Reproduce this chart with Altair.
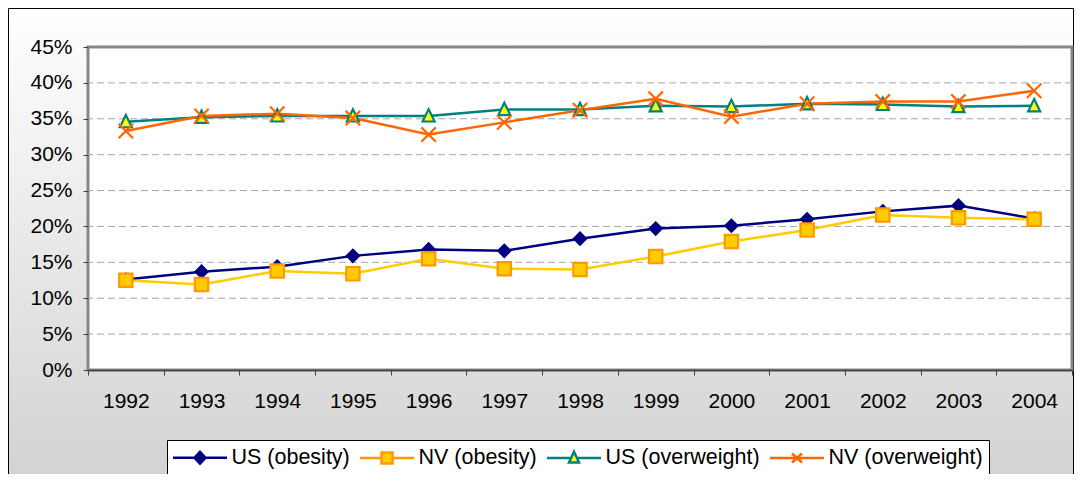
import altair as alt
import pandas as pd

# ---------------- data ----------------
years = ["1992", "1993", "1994", "1995", "1996", "1997", "1998",
         "1999", "2000", "2001", "2002", "2003", "2004"]
series_names = ["US (obesity)", "NV (obesity)", "US (overweight)", "NV (overweight)"]
us_obesity = [12.6, 13.7, 14.4, 15.9, 16.8, 16.6, 18.3, 19.7, 20.1, 21.0, 22.1, 22.9, 21.1]
nv_obesity = [12.5, 11.9, 13.8, 13.4, 15.5, 14.1, 14.0, 15.8, 17.9, 19.5, 21.6, 21.2, 21.0]
us_overweight = [34.6, 35.2, 35.4, 35.4, 35.4, 36.3, 36.3, 36.8, 36.7, 37.1, 37.0, 36.7, 36.8]
nv_overweight = [33.3, 35.4, 35.7, 35.1, 32.8, 34.5, 36.2, 37.8, 35.3, 37.1, 37.4, 37.4, 38.9]
gridlines = [5, 10, 15, 20, 25, 30, 35, 40]
y_ticks = [0, 5, 10, 15, 20, 25, 30, 35, 40, 45]

rows = []
for name, vals in zip(series_names, [us_obesity, nv_obesity, us_overweight, nv_overweight]):
    for yr, v in zip(years, vals):
        rows.append({"year": yr, "value": v, "series": name})
df = pd.DataFrame(rows)
grid_df = pd.DataFrame({"g": gridlines})
one_df = pd.DataFrame({"k": [0]})

# ---------------- styles ----------------
FONT = "Liberation Sans"
W, H = 984, 323
line_colors = ["#000080", "#FFCC00", "#008080", "#FF6600"]
marker_fills = ["#000080", "#FFCC00", "#FFFF00", "transparent"]
marker_strokes = ["#000080", "#FF9900", "#008080", "#FF6600"]
marker_paths = [
    "M0,-0.67L0.67,0L0,0.67L-0.67,0Z",
    "M-0.74,-0.74H0.74V0.74H-0.74Z",
    "M0,-0.75L0.67,0.62L-0.67,0.62Z",
    "M-0.8,-0.8L0.8,0.8M-0.8,0.8L0.8,-0.8",
]
legend_paths = [
    "M-2.7,0H2.7M0,-0.6L0.55,0L0,0.6L-0.55,0Z",
    "M-2.7,0H-0.55M0.55,0H2.7M-0.55,-0.55H0.55V0.55H-0.55Z",
    "M-2.7,0H-0.3M0.3,0H2.7M0,-0.62L0.5,0.45L-0.5,0.45Z",
    "M-2.7,0H2.7M-0.5,-0.45L0.5,0.45M-0.5,0.45L0.5,-0.45",
]

x_enc = alt.X(
    "year:O",
    scale=alt.Scale(type="band", domain=years, paddingInner=0, paddingOuter=0),
    axis=alt.Axis(title=None, labelAngle=0, tickBand="extent", tickSize=5,
                  labelPadding=15, labelFontSize=21, labelFont=FONT,
                  labelColor="black", domainColor="#404040", domainWidth=1.5,
                  tickColor="#404040", grid=False, zindex=1),
)
y_scale = alt.Scale(domain=[0, 45], nice=False, zero=True)
y_axis = alt.Axis(title=None, values=y_ticks, labelExpr="datum.value + '%'",
                  tickSize=5, labelPadding=11, labelFontSize=21, labelFont=FONT,
                  labelColor="black", domain=False, tickColor="#404040", grid=False,
                  zindex=1)

# background (outer gradient box)
bg = alt.Chart(one_df).mark_rect(
    fill=alt.Gradient(gradient="linear",
                      stops=[alt.GradientStop(color="#ffffff", offset=0),
                             alt.GradientStop(color="#cecece", offset=1)],
                      x1=0, x2=0, y1=0, y2=1),
    stroke="black", strokeWidth=1,
).encode(x=alt.value(-79.5), x2=alt.value(985.5), y=alt.value(-38.5), y2=alt.value(480))

# plot area
plot_bg = alt.Chart(one_df).mark_rect(fill="white", stroke="#878787", strokeWidth=3).encode(
    x=alt.value(0), x2=alt.value("width"), y=alt.value(0), y2=alt.value("height"))

grid = alt.Chart(grid_df).mark_rule(color="#a6a6a6", strokeWidth=1, strokeDash=[7, 4]).encode(
    y=alt.Y("g:Q", scale=y_scale, axis=y_axis))

lines = alt.Chart(df).mark_line(strokeWidth=2.5).encode(
    x=x_enc,
    y=alt.Y("value:Q", scale=y_scale, axis=y_axis),
    stroke=alt.Stroke("series:N", scale=alt.Scale(domain=series_names, range=line_colors), legend=None),
)

points = alt.Chart(df).mark_point(filled=True, size=324, strokeWidth=2.2, opacity=1).encode(
    x=x_enc,
    y=alt.Y("value:Q", scale=y_scale, axis=y_axis),
    shape=alt.Shape("series:N", scale=alt.Scale(domain=series_names, range=marker_paths), legend=None),
    fill=alt.Fill("series:N", scale=alt.Scale(domain=series_names, range=marker_fills), legend=None),
    stroke=alt.Stroke("series:N", scale=alt.Scale(domain=series_names, range=marker_strokes), legend=None),
)

legend_spec = alt.Legend(
    orient="none", legendX=79, legendY=393, direction="horizontal", title=None,
    symbolSize=400, symbolStrokeWidth=2.5, symbolOffset=15.5, labelOffset=20,
    symbolOpacity=1,
    columnPadding=5, padding=6, strokeColor="black", fillColor="white",
    labelFontSize=21.5, labelFont=FONT, labelColor="black", labelLimit=400,
)
legend_layer = alt.Chart(df).transform_filter("false").mark_point(
    filled=True, size=400, strokeWidth=2.5, opacity=1
).encode(
    shape=alt.Shape("series:N", scale=alt.Scale(domain=series_names, range=legend_paths), legend=legend_spec),
    fill=alt.Fill("series:N", scale=alt.Scale(domain=series_names, range=marker_fills), legend=legend_spec),
    stroke=alt.Stroke("series:N", scale=alt.Scale(domain=series_names, range=marker_strokes), legend=legend_spec),
)

chart = alt.layer(bg, plot_bg, grid, lines, points, legend_layer).resolve_scale(
    shape="independent", fill="independent", stroke="independent"
).properties(
    width=W, height=H,
    autosize=alt.AutoSizeParams(type="none"),
    padding={"left": 80, "top": 39, "right": 2, "bottom": 104},
    background="white",
).configure_view(strokeWidth=0)

chart.save("out.html", embed_options={"renderer": "svg", "actions": False})
